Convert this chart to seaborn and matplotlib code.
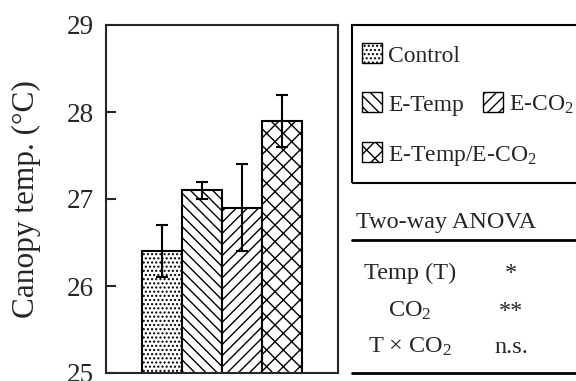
import matplotlib
matplotlib.use('Agg')
import matplotlib.pyplot as plt
import seaborn as sns
from matplotlib.patches import Rectangle
from matplotlib.lines import Line2D

# canopy temperature per treatment (mean and error)
treatments = ['Control', 'E-Temp', 'E-CO2', 'E-Temp/E-CO2']
canopy_temp = [26.4, 27.1, 26.9, 27.9]
canopy_err = [0.3, 0.1, 0.5, 0.3]
hatches = ['....', '\\\\\\', '///', 'xx']
legend_labels = ['Control', 'E-Temp', 'E-CO$_2$', 'E-Temp/E-CO$_2$']

# two-way ANOVA summary
anova_terms = ['Temp (T)', 'CO$_2$', 'T × CO$_2$']
anova_sig = ['*', '**', 'n.s.']
y_ticks = [25, 26, 27, 28, 29]

sns.set_style('ticks')
plt.rcParams['font.family'] = ['Liberation Serif', 'DejaVu Serif']
plt.rcParams['mathtext.fontset'] = 'custom'
plt.rcParams['mathtext.rm'] = 'Liberation Serif'
plt.rcParams['mathtext.it'] = 'Liberation Serif:italic'
plt.rcParams['hatch.linewidth'] = 1.0

W, H = 576, 381
fig = plt.figure(figsize=(W / 100, H / 100), dpi=100)
ax = fig.add_axes([106 / W, 1 - 373 / H, 232 / W, 348 / H])

sns.barplot(x=treatments, y=canopy_temp, color='white', edgecolor='black',
            linewidth=1.5, width=1.0, errorbar=None, ax=ax)
for bar, h in zip(ax.patches, hatches):
    bar.set_hatch(h)
ax.errorbar(range(len(treatments)), canopy_temp, yerr=canopy_err, fmt='none',
            ecolor='black', elinewidth=1.5, capsize=4, capthick=1.5)

ax.set_xlim(-1.4, 4.4)
ax.set_ylim(25, 29)
ax.set_yticks(y_ticks)
ax.set_xticks([])
ax.set_xlabel('')
ax.tick_params(axis='y', direction='in', length=7, width=1.5, labelsize=19.5, pad=9)
for s in ax.spines.values():
    s.set_linewidth(1.5)
    s.set_visible(True)
ax.set_ylabel('Canopy temp. (°C)', fontsize=22.5)
ax.yaxis.set_label_coords(-0.28, 0.5)

def fx(px):
    return px / W

def fy(py):
    return 1 - py / H

# legend box, open on the right side
fig.add_artist(Rectangle((fx(352), fy(183)), 0.6, 158 / H, transform=fig.transFigure,
                         fill=False, edgecolor='black', linewidth=1.5))
# (left x, bottom y) of each legend swatch in pixels
legend_pos = [(362, 63), (362, 112), (483, 112), (362, 162)]
for (px, py), lab, h in zip(legend_pos, legend_labels, hatches):
    fig.add_artist(Rectangle((fx(px), fy(py)), 20 / W, 20 / H, transform=fig.transFigure,
                             facecolor='white', edgecolor='black', linewidth=1.0, hatch=h))
    fig.text(fx(px + 26), fy(py - 1), lab, fontsize=17, ha='left', va='baseline')

# ANOVA table
fig.text(fx(356), fy(228), 'Two-way ANOVA', fontsize=17.5, ha='left', va='baseline')
fig.add_artist(Line2D([fx(352), 1], [fy(240), fy(240)], transform=fig.transFigure,
                      color='black', linewidth=2))
for term, sig, py in zip(anova_terms, anova_sig, [279, 317, 353]):
    fig.text(fx(410), fy(py), term, fontsize=17.5, ha='center', va='baseline')
    fig.text(fx(511), fy(py), sig, fontsize=17.5, ha='center', va='baseline')
fig.add_artist(Line2D([fx(352), 1], [fy(373), fy(373)], transform=fig.transFigure,
                      color='black', linewidth=2))

fig.savefig('out.png', dpi=100)
